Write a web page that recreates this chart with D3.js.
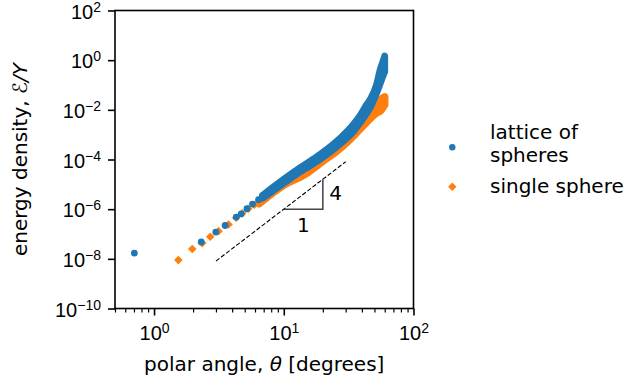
<!DOCTYPE html>
<html>
<head>
<meta charset="utf-8">
<script src="https://cdn.jsdelivr.net/npm/d3@7"></script>
<style>
  body { margin: 0; background: #fff; }
  svg { display: block; font-family: 'DejaVu Sans', sans-serif; }
</style>
</head>
<body>
<div id="chart"></div>
<script>
// lattice of spheres: isolated points at small angles
var latticeTheta = [0.705, 2.31, 2.99, 3.53, 4.30, 4.70, 5.20, 5.74, 6.39, 6.86];
var latticeE = [1.7e-8, 4.8e-8, 1.2e-7, 2.2e-7, 4.8e-7, 6.5e-7, 1.04e-6, 1.6e-6, 2.4e-6, 3.5e-6];
// lattice of spheres: dense cloud, spread of points at each angle
var latticeBandTheta = [6.86, 10.1, 13.4, 19.1, 27.3, 34.4, 39.4, 43.4, 47.0, 51.8, 55.6, 58.0, 60];
var latticeBandHi = [3.6e-6, 1.66e-5, 4.7e-5, 1.62e-4, 7.4e-4, 2.6e-3, 6.8e-3, 0.0158, 0.030, 0.10, 0.45, 0.85, 1.48];
var latticeBandLo = [2.75e-6, 1.15e-5, 3.2e-5, 1.02e-4, 4.3e-4, 1.35e-3, 3.4e-3, 7.0e-3, 0.014, 0.045, 0.12, 0.22, 0.34];

// single sphere
var sphereTheta = [1.54, 1.97, 2.35, 2.71, 3.14, 3.75, 4.30, 4.78, 5.32, 5.92];
var sphereE = [8.9e-9, 2.5e-8, 4.3e-8, 7.8e-8, 1.3e-7, 2.4e-7, 4.5e-7, 6.8e-7, 1.04e-6, 1.5e-6];
var sphereBandTheta = [6.47, 10.1, 14.7, 19.8, 25.0, 31.5, 40.4, 50.9, 56.6, 60];
var sphereBandHi = [2.2e-6, 1.32e-5, 4.3e-5, 1.29e-4, 3.1e-4, 9.8e-4, 4.0e-3, 0.0145, 0.0275, 0.033];
var sphereBandLo = [1.66e-6, 9.5e-6, 2.6e-5, 8.1e-5, 1.95e-4, 5.6e-4, 2.1e-3, 6.9e-3, 0.010, 0.0158];

// slope-4 guide and triangle
var guideTheta = [3, 30];
var guideE = [8.1e-9, 8.1e-5];
var triTheta = [10, 20, 20];
var triE = [1e-6, 1e-6, 1.6e-5];

var xTicks = [1, 10, 100];
var xTickExp = ['0', '1', '2'];
var yTicks = [1e2, 1e0, 1e-2, 1e-4, 1e-6, 1e-8, 1e-10];
var yTickExp = ['2', '0', '\u22122', '\u22124', '\u22126', '\u22128', '\u221210'];

var blue = '#1f77b4';
var orange = '#ff7f0e';

var w = 626;
var h = 386;
var pLeft = 115, pRight = 413.5, pTop = 10.5, pBottom = 308.5;

var svg = d3.select('#chart').append('svg').attr('width', w).attr('height', h);

var x = d3.scaleLog().domain([0.5, 100]).range([pLeft, pRight]);
var y = d3.scaleLog().domain([1e-10, 1e2]).range([pBottom, pTop]);

var minors = [];
[0.1, 1, 10].forEach(function(p) {
	for (var k = 2; k <= 9; k++) {
		var v = k * p;
		if (v >= 0.5 && v <= 100) minors.push(v);
	}
});

// x axis
var gx = svg.append('g').attr('transform', 'translate(0,' + pBottom + ')');
gx.call(d3.axisBottom(x).tickValues(minors).tickSize(4).tickFormat(function() { return ''; }));
gx.selectAll('.tick line').attr('stroke-width', 1.2);
gx.select('.domain').remove();
gx.selectAll('.tick text').remove();
var gx2 = svg.append('g').attr('transform', 'translate(0,' + pBottom + ')');
gx2.call(d3.axisBottom(x).tickValues(xTicks).tickSize(7).tickFormat(function() { return ''; }));
gx2.selectAll('.tick line').attr('stroke-width', 1.6);
gx2.select('.domain').remove();
gx2.selectAll('.tick text').remove();
gx2.selectAll('.tick').each(function(d, i) {
	var t = d3.select(this).append('text')
		.attr('y', 31.5)
		.attr('fill', '#000')
		.attr('font-size', 20)
		.attr('text-anchor', 'middle');
	t.append('tspan').text('10');
	t.append('tspan').attr('dy', -7.5).attr('font-size', 14).text(xTickExp[i]);
});

// y axis
var gy = svg.append('g').attr('transform', 'translate(' + pLeft + ',0)');
gy.call(d3.axisLeft(y).tickValues(yTicks).tickSize(7).tickFormat(function() { return ''; }));
gy.selectAll('.tick line').attr('stroke-width', 1.6);
gy.select('.domain').remove();
gy.selectAll('.tick text').remove();
gy.selectAll('.tick').each(function(d, i) {
	var t = d3.select(this).append('text')
		.attr('x', -14)
		.attr('y', 7.6)
		.attr('fill', '#000')
		.attr('font-size', 20)
		.attr('text-anchor', 'end');
	t.append('tspan').text('10');
	t.append('tspan').attr('dy', -7).attr('font-size', 14).text(yTickExp[i]);
});

// frame
svg.append('rect')
	.attr('x', pLeft).attr('y', pTop)
	.attr('width', pRight - pLeft).attr('height', pBottom - pTop)
	.attr('fill', 'none').attr('stroke', '#000').attr('stroke-width', 1.6);

var plot = svg.append('g');

var band = function(thetas, hi, lo) {
	return d3.area()
		.x(function(d, i) { return x(thetas[i]); })
		.y0(function(d, i) { return y(lo[i]); })
		.y1(function(d, i) { return y(hi[i]); })
		.curve(d3.curveMonotoneX)(thetas);
};

var diamond = function(cx, cy, s) {
	return 'M' + cx + ',' + (cy - s) + 'L' + (cx + s) + ',' + cy + 'L' + cx + ',' + (cy + s) + 'L' + (cx - s) + ',' + cy + 'Z';
};

// single sphere (drawn underneath)
plot.append('path')
	.attr('d', band(sphereBandTheta, sphereBandHi, sphereBandLo))
	.attr('fill', orange).attr('stroke', orange)
	.attr('stroke-width', 7.5).attr('stroke-linejoin', 'round');
plot.selectAll('.sphere')
	.data(sphereTheta)
	.enter()
	.append('path')
	.attr('class', 'sphere')
	.attr('d', function(d, i) { return diamond(x(d), y(sphereE[i]), 4.3); })
	.attr('fill', orange);

// lattice of spheres
plot.append('path')
	.attr('d', band(latticeBandTheta, latticeBandHi, latticeBandLo))
	.attr('fill', blue).attr('stroke', blue)
	.attr('stroke-width', 6.8).attr('stroke-linejoin', 'round');
plot.selectAll('.lattice')
	.data(latticeTheta)
	.enter()
	.append('circle')
	.attr('class', 'lattice')
	.attr('cx', function(d) { return x(d); })
	.attr('cy', function(d, i) { return y(latticeE[i]); })
	.attr('r', 3.4)
	.attr('fill', blue);

// slope guide
plot.append('line')
	.attr('x1', x(guideTheta[0])).attr('y1', y(guideE[0]))
	.attr('x2', x(guideTheta[1])).attr('y2', y(guideE[1]))
	.attr('stroke', '#000').attr('stroke-width', 1.1)
	.attr('stroke-dasharray', '4.4,2');

plot.append('path')
	.attr('d', d3.line()
		.x(function(d) { return x(d); })
		.y(function(d, i) { return y(triE[i]); })(triTheta))
	.attr('fill', 'none').attr('stroke', '#444').attr('stroke-width', 1.5);

plot.append('text')
	.attr('x', (x(triTheta[0]) + x(triTheta[1])) / 2)
	.attr('y', 231.5)
	.attr('text-anchor', 'middle')
	.attr('font-size', 20)
	.text('1');
plot.append('text')
	.attr('x', x(triTheta[2]) + 6.5)
	.attr('y', 199.5)
	.attr('font-size', 20)
	.text('4');

// axis labels
svg.append('text')
	.attr('x', (pLeft + pRight) / 2)
	.attr('y', 371)
	.attr('text-anchor', 'middle')
	.attr('font-size', 20)
	.call(function(t) {
		t.append('tspan').text('polar angle, ');
		t.append('tspan').attr('font-style', 'italic').text('\u03B8');
		t.append('tspan').text(' [degrees]');
	});

svg.append('text')
	.attr('transform', 'translate(27,' + (pTop + pBottom) / 2 + ') rotate(-90)')
	.attr('text-anchor', 'middle')
	.attr('font-size', 20)
	.call(function(t) {
		t.append('tspan').text('energy density, ');
		t.append('tspan').attr('font-style', 'italic').text('\u2130/Y');
	});

// legend
var lg = svg.append('g');
lg.append('circle').attr('cx', 452.3).attr('cy', 147.3).attr('r', 3.2).attr('fill', blue);
lg.append('path').attr('d', diamond(452.3, 186.7, 4.2)).attr('fill', orange);
lg.append('text').attr('x', 490).attr('y', 139).attr('font-size', 20).text('lattice of');
lg.append('text').attr('x', 490).attr('y', 161.5).attr('font-size', 20).text('spheres');
lg.append('text').attr('x', 490).attr('y', 192.5).attr('font-size', 20).text('single sphere');
</script>
</body>
</html>
